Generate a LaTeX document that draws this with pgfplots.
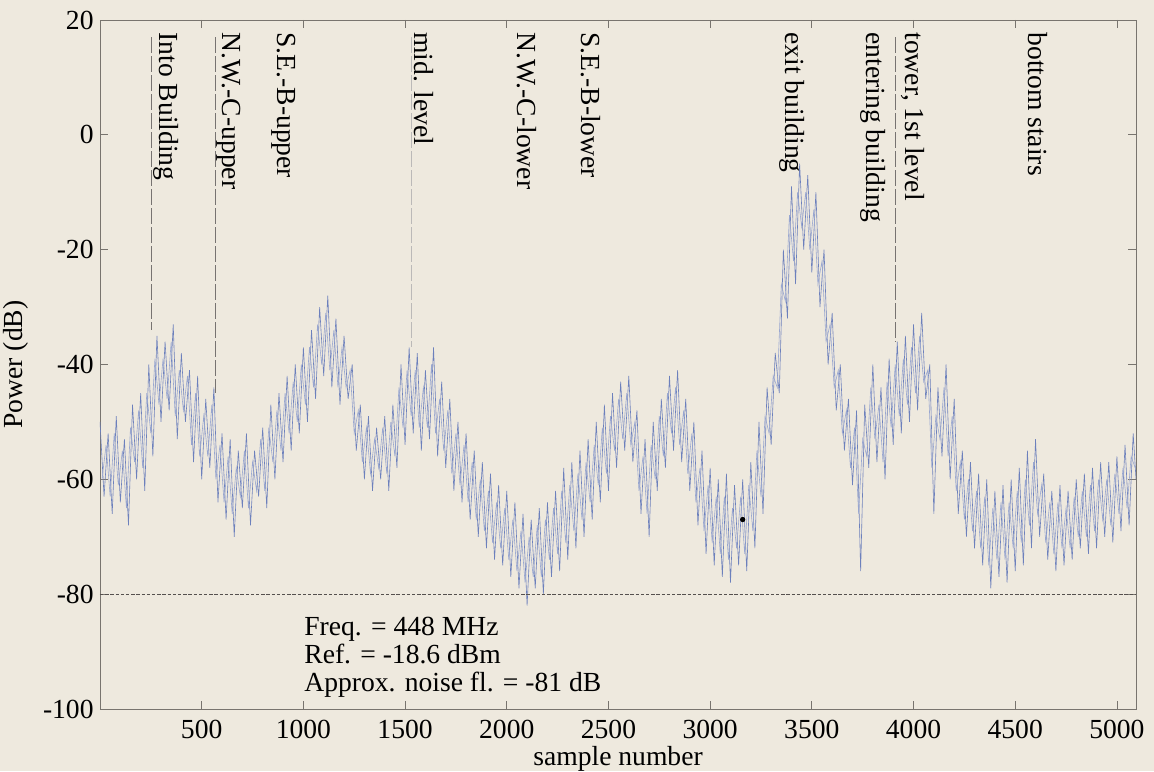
\documentclass[border=0pt]{standalone}
\usepackage{fontspec}
\setmainfont{Liberation Serif}
\usepackage{pgfplots}
\pgfplotsset{compat=1.18}
\definecolor{paper}{RGB}{238,233,222}
\definecolor{trace}{RGB}{108,128,188}
\definecolor{axisgray}{RGB}{120,116,110}
\definecolor{dashgray}{RGB}{85,80,78}
\pagecolor{paper}

\begin{document}
\begin{tikzpicture}[font=\fontsize{13.8}{14}\selectfont]
  \begin{axis}[
    name=ax,
    scale only axis,
    width=518pt, height=344.5pt,
    xmin=0, xmax=5094, ymin=-100, ymax=20,
    xtick={500,1000,...,5000},
    ytick={-100,-80,...,20},
    /pgf/number format/1000 sep={},
    /pgf/number format/assume math mode=true,
    tick align=inside,
    major tick length=4pt,
    tick style={axisgray, line width=0.4pt},
    x axis line style={draw=axisgray!45},
    y axis line style={draw=axisgray},
    xticklabel style={inner sep=0pt, yshift=-5.5pt},
    yticklabel style={inner sep=0pt, xshift=-3pt},
    xlabel={sample number},
    ylabel={Power (dB)},
    xlabel style={at={(axis description cs:0.5,0)}, anchor=north, inner sep=0pt, yshift=-18.5pt},
    ylabel style={at={(axis description cs:-0.081,0.5)}, anchor=center},
  ]
    % received power (envelope of the fast fading)
    \addplot[trace, line width=0.3pt] coordinates {
      (0,-50) (20,-63) (40,-52) (60,-66) (80,-49) (100,-64) (120,-53) (140,-68)
      (160,-47) (180,-60) (200,-45) (220,-62) (240,-40) (260,-56) (280,-35) (300,-50)
      (320,-36) (340,-48) (360,-33) (380,-53) (400,-38) (420,-50) (440,-41) (460,-57)
      (480,-42) (500,-60) (520,-46) (540,-58) (560,-44) (580,-64) (600,-52) (620,-67)
      (640,-53) (660,-70) (680,-55) (700,-65) (720,-52) (740,-68) (760,-55) (780,-63)
      (800,-51) (820,-65) (840,-47) (860,-60) (880,-45) (900,-57) (920,-42) (940,-55)
      (960,-40) (980,-52) (1000,-37) (1020,-50) (1040,-34) (1060,-46) (1080,-30) (1100,-42)
      (1120,-28) (1140,-44) (1160,-32) (1180,-47) (1200,-35) (1220,-46) (1240,-40) (1260,-55)
      (1280,-47) (1300,-60) (1320,-49) (1340,-62) (1360,-51) (1380,-60) (1400,-49) (1420,-62)
      (1440,-47) (1460,-58) (1480,-40) (1500,-54) (1520,-37) (1540,-52) (1560,-38) (1580,-55)
      (1600,-41) (1620,-53) (1640,-37) (1660,-56) (1680,-43) (1700,-58) (1720,-46) (1740,-62)
      (1760,-50) (1780,-64) (1800,-52) (1820,-67) (1840,-55) (1860,-70) (1880,-57) (1900,-72)
      (1920,-59) (1940,-74) (1960,-61) (1980,-75) (2000,-62) (2020,-77) (2040,-64) (2060,-79)
      (2080,-66) (2100,-82) (2120,-67) (2140,-79) (2160,-65) (2180,-80) (2200,-64) (2220,-77)
      (2240,-62) (2260,-76) (2280,-58) (2300,-74) (2320,-57) (2340,-72) (2360,-55) (2380,-70)
      (2400,-53) (2420,-67) (2440,-50) (2460,-64) (2480,-47) (2500,-62) (2520,-45) (2540,-58)
      (2560,-43) (2580,-55) (2600,-42) (2620,-57) (2640,-48) (2660,-66) (2680,-53) (2700,-70)
      (2720,-50) (2740,-62) (2760,-46) (2780,-58) (2800,-42) (2820,-55) (2840,-41) (2860,-57)
      (2880,-46) (2900,-62) (2920,-50) (2940,-68) (2960,-55) (2980,-73) (3000,-58) (3020,-75)
      (3040,-60) (3060,-77) (3080,-59) (3100,-78) (3120,-61) (3140,-75) (3160,-60) (3180,-76)
      (3200,-57) (3220,-72) (3240,-50) (3260,-66) (3280,-44) (3300,-54) (3320,-38) (3340,-45)
      (3360,-20) (3380,-32) (3400,-9) (3420,-26) (3440,-5) (3460,-20) (3480,-7) (3500,-24)
      (3520,-10) (3540,-30) (3560,-20) (3580,-40) (3600,-31) (3620,-48) (3640,-40) (3660,-55)
      (3680,-46) (3700,-61) (3720,-48) (3740,-76) (3760,-47) (3780,-58) (3800,-40) (3820,-57)
      (3840,-44) (3860,-60) (3880,-39) (3900,-54) (3920,-36) (3940,-52) (3960,-35) (3980,-50)
      (4000,-33) (4020,-48) (4040,-31) (4060,-46) (4080,-40) (4100,-66) (4120,-44) (4140,-56)
      (4160,-40) (4180,-60) (4200,-46) (4220,-66) (4240,-55) (4260,-70) (4280,-57) (4300,-72)
      (4320,-59) (4340,-75) (4360,-60) (4380,-79) (4400,-62) (4420,-77) (4440,-61) (4460,-78)
      (4480,-60) (4500,-76) (4520,-58) (4540,-75) (4560,-55) (4580,-72) (4600,-53) (4620,-70)
      (4640,-59) (4660,-74) (4680,-62) (4700,-76) (4720,-61) (4740,-75) (4760,-62) (4780,-74)
      (4800,-60) (4820,-72) (4840,-59) (4860,-73) (4880,-58) (4900,-72) (4920,-57) (4940,-70)
      (4960,-57) (4980,-71) (5000,-56) (5020,-69) (5040,-54) (5060,-68) (5080,-52) (5094,-60)
    };
    % the samples in between (odd tens), nearer the middle of the band
    \addplot[trace!70, line width=0.3pt] coordinates {
      (10,-60) (30,-54) (50,-63) (70,-52) (90,-61) (110,-55) (130,-65) (150,-51)
      (170,-57) (190,-48) (210,-58) (230,-45) (250,-52) (270,-39) (290,-47) (310,-39)
      (330,-46) (350,-36) (370,-49) (390,-41) (410,-48) (430,-42) (450,-54) (470,-45)
      (490,-56) (510,-49) (530,-56) (550,-47) (570,-60) (590,-54) (610,-64) (630,-56)
      (650,-66) (670,-58) (690,-63) (710,-55) (730,-65) (750,-57) (770,-62) (790,-53)
      (810,-62) (830,-51) (850,-57) (870,-48) (890,-55) (910,-45) (930,-52) (950,-43)
      (970,-50) (990,-40) (1010,-47) (1030,-37) (1050,-44) (1070,-33) (1090,-40) (1110,-31)
      (1130,-41) (1150,-34) (1170,-44) (1190,-37) (1210,-44) (1230,-41) (1250,-52) (1270,-48)
      (1290,-57) (1310,-51) (1330,-59) (1350,-53) (1370,-58) (1390,-51) (1410,-59) (1430,-50)
      (1450,-56) (1470,-44) (1490,-51) (1510,-41) (1530,-49) (1550,-41) (1570,-51) (1590,-44)
      (1610,-51) (1630,-40) (1650,-52) (1670,-46) (1690,-55) (1710,-48) (1730,-59) (1750,-52)
      (1770,-61) (1790,-54) (1810,-64) (1830,-57) (1850,-67) (1870,-60) (1890,-69) (1910,-62)
      (1930,-71) (1950,-64) (1970,-72) (1990,-65) (2010,-74) (2030,-67) (2050,-76) (2070,-69)
      (2090,-78) (2110,-70) (2130,-77) (2150,-68) (2170,-77) (2190,-67) (2210,-74) (2230,-65)
      (2250,-73) (2270,-62) (2290,-71) (2310,-61) (2330,-69) (2350,-59) (2370,-67) (2390,-57)
      (2410,-64) (2430,-54) (2450,-61) (2470,-51) (2490,-59) (2510,-49) (2530,-55) (2550,-46)
      (2570,-53) (2590,-45) (2610,-54) (2630,-50) (2650,-62) (2670,-56) (2690,-66) (2710,-54)
      (2730,-60) (2750,-49) (2770,-56) (2790,-45) (2810,-52) (2830,-44) (2850,-54) (2870,-48)
      (2890,-59) (2910,-52) (2930,-64) (2950,-58) (2970,-69) (2990,-61) (3010,-71) (3030,-63)
      (3050,-73) (3070,-63) (3090,-74) (3110,-65) (3130,-72) (3150,-63) (3170,-73) (3190,-61)
      (3210,-69) (3230,-55) (3250,-63) (3270,-49) (3290,-52) (3310,-42) (3330,-44) (3350,-26)
      (3370,-29) (3390,-14) (3410,-22) (3430,-10) (3450,-16) (3470,-10) (3490,-20) (3510,-13)
      (3530,-26) (3550,-22) (3570,-36) (3590,-33) (3610,-44) (3630,-41) (3650,-52) (3670,-48)
      (3690,-58) (3710,-51) (3730,-66) (3750,-53) (3770,-56) (3790,-44) (3810,-53) (3830,-47)
      (3850,-57) (3870,-43) (3890,-51) (3910,-40) (3930,-49) (3950,-39) (3970,-47) (3990,-37)
      (4010,-45) (4030,-35) (4050,-43) (4070,-41) (4090,-58) (4110,-49) (4130,-53) (4150,-44)
      (4170,-56) (4190,-49) (4210,-62) (4230,-57) (4250,-67) (4270,-60) (4290,-69) (4310,-62)
      (4330,-72) (4350,-63) (4370,-75) (4390,-65) (4410,-74) (4430,-64) (4450,-74) (4470,-64)
      (4490,-72) (4510,-62) (4530,-71) (4550,-60) (4570,-68) (4590,-57) (4610,-66) (4630,-61)
      (4650,-71) (4670,-64) (4690,-73) (4710,-64) (4730,-72) (4750,-65) (4770,-72) (4790,-63)
      (4810,-70) (4830,-62) (4850,-70) (4870,-61) (4890,-69) (4910,-60) (4930,-67) (4950,-60)
      (4970,-68) (4990,-59) (5010,-66) (5030,-58) (5050,-65) (5070,-56) (5090,-58)
    };
    \addplot[only marks, mark=*, mark size=1.1pt, black] coordinates {(3160,-67)};
    % approx. noise floor
    \addplot[dashgray, line width=0.5pt, dash pattern=on 1.7pt off 0.9pt] coordinates {(0,-80) (5094,-80)};
    % event markers
    \addplot[dashgray!80, line width=0.4pt, dash pattern=on 8pt off 1.5pt] coordinates {(255,17) (255,-34)};
    \addplot[dashgray!80, line width=0.4pt, dash pattern=on 8pt off 1.5pt] coordinates {(568,17) (568,-45)};
    \addplot[dashgray!40, line width=0.4pt, dash pattern=on 8pt off 1.5pt] coordinates {(1529,17) (1529,-37)};
    \addplot[dashgray!80, line width=0.4pt, dash pattern=on 8pt off 1.5pt] coordinates {(3912,17) (3912,-36)};

    \begin{scope}[every node/.style={rotate=-90, anchor=west, inner sep=0pt}]
      \node at (axis cs:324,17.9) {Into Building};
      \node at (axis cs:633,17.9) {N.W.-C-upper};
      \node at (axis cs:904,17.9) {S.E.-B-upper};
      \node at (axis cs:1593,17.9) {mid. level};
      \node at (axis cs:2100,17.9) {N.W.-C-lower};
      \node at (axis cs:2415,17.9) {S.E.-B-lower};
      \node at (axis cs:3405,17.9) {exit building};
      \node at (axis cs:3799,17.9) {entering building};
      \node at (axis cs:3996,17.9) {tower, 1st level};
      \node at (axis cs:4611,17.9) {bottom stairs};
    \end{scope}
    \node[anchor=north west, inner sep=0pt, align=left] at (axis cs:1003,-84)
      {Freq. = 448 MHz\\Ref. = -18.6 dBm\\Approx. noise fl. = -81 dB};
  \end{axis}
  \pgfresetboundingbox
  \path[use as bounding box] ([xshift=-50pt,yshift=-31pt]ax.south west)
    rectangle ([xshift=527pt,yshift=354.5pt]ax.south west);
\end{tikzpicture}
\end{document}
